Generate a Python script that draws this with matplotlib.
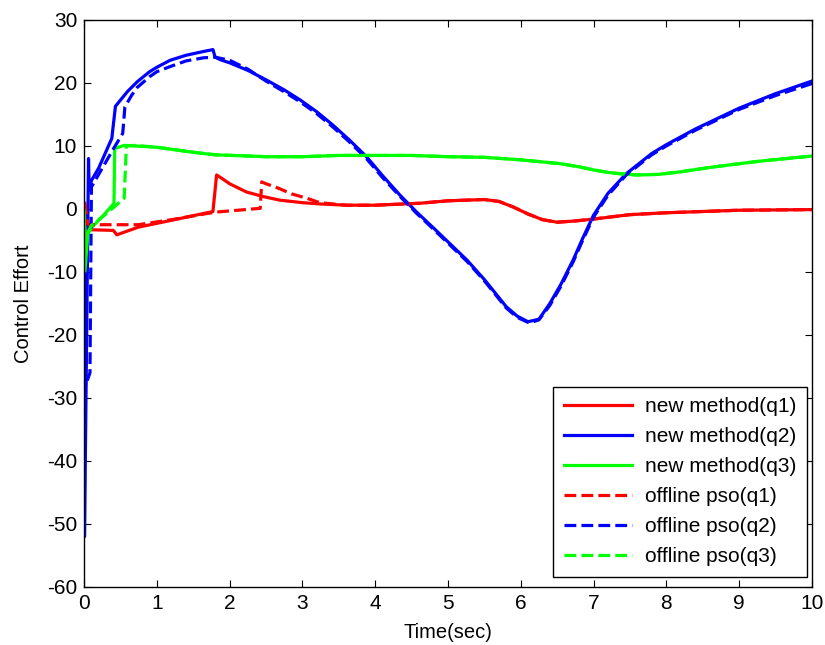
import matplotlib
matplotlib.use('Agg')
import matplotlib.pyplot as plt

plt.rcParams['font.family'] = ['Liberation Sans', 'DejaVu Sans']
plt.rcParams['axes.unicode_minus'] = False

# ---- control effort traces (time in sec, effort) ----
t_q1_new = [0, 0.01, 0.05, 0.1, 0.4, 0.45, 0.74, 1.2, 1.77, 1.82, 1.9, 2.0, 2.23, 2.45,
            2.69, 3.0, 3.24, 3.6, 4.0, 4.6, 5.0, 5.5, 5.7, 5.9, 6.1, 6.3, 6.5, 6.75, 7.0,
            7.5, 8.0, 8.5, 9.0, 10.0]
y_q1_new = [1.0, 0.5, -3.2, -3.3, -3.4, -4.1, -2.9, -1.8, -0.4, 5.4, 4.8, 4.0, 2.7, 2.0,
            1.4, 1.0, 0.8, 0.6, 0.6, 0.9, 1.3, 1.5, 1.2, 0.3, -0.8, -1.7, -2.1, -1.9, -1.6,
            -0.9, -0.6, -0.4, -0.2, -0.1]

t_q2_new = [0, 0.005, 0.06, 0.07, 0.1, 0.2, 0.38, 0.43, 0.5, 0.6, 0.73, 0.9, 1.0, 1.18,
            1.4, 1.64, 1.77, 1.8, 1.87, 2.0, 2.25, 2.5, 2.75, 2.97, 3.2, 3.42, 3.65, 3.88,
            4.1, 4.34, 4.57, 4.8, 5.26, 5.5, 5.8, 5.95, 6.1, 6.25, 6.4, 6.55, 6.72, 6.85,
            7.0, 7.2, 7.45, 7.8, 8.0, 8.4, 9.0, 9.5, 10.0]
y_q2_new = [-10, -52, 8.0, 3.0, 4.5, 6.5, 11.2, 16.3, 17.3, 18.7, 20.2, 21.8, 22.5, 23.6,
            24.4, 25.0, 25.3, 24.1, 23.7, 23.2, 22.0, 20.5, 18.9, 17.3, 15.4, 13.3, 10.9, 8.3,
            5.3, 2.2, -0.5, -3.0, -8.1, -11.2, -15.5, -17.0, -17.9, -17.5, -15.0, -12.0, -8.1,
            -4.7, -1.0, 2.5, 5.6, 8.8, 10.2, 12.7, 16.0, 18.3, 20.3]

t_q3_new = [0, 0.01, 0.05, 0.1, 0.25, 0.41, 0.42, 0.55, 1.0, 1.5, 1.8, 2.5, 3.0, 3.5, 4.5,
            5.0, 5.5, 6.0, 6.54, 6.8, 7.0, 7.2, 7.36, 7.6, 7.9, 8.2, 8.6, 9.29, 10.0]
y_q3_new = [0.0, -10.0, -4.0, -3.0, -1.2, 0.9, 9.6, 10.1, 9.8, 9.0, 8.6, 8.3, 8.3, 8.5, 8.5,
            8.3, 8.2, 7.8, 7.2, 6.7, 6.2, 5.8, 5.6, 5.4, 5.5, 5.9, 6.6, 7.6, 8.4]

t_q1_pso = [0, 0.01, 0.05, 0.1, 0.4, 0.74, 1.2, 1.8, 2.42, 2.44, 2.5, 2.6, 2.69, 2.85,
            3.06, 3.24, 3.6, 4.0, 4.6, 5.0, 5.5, 5.7, 5.9, 6.1, 6.3, 6.5, 6.75, 7.0, 7.5,
            8.0, 8.5, 9.0, 10.0]
y_q1_pso = [1.0, 0.8, -2.4, -2.5, -2.5, -2.5, -1.7, -0.5, 0.1, 4.3, 4.0, 3.6, 3.2, 2.4,
            1.7, 1.0, 0.6, 0.6, 0.9, 1.3, 1.5, 1.2, 0.3, -0.8, -1.7, -2.1, -1.9, -1.6, -0.9,
            -0.6, -0.4, -0.2, -0.1]

t_q2_pso = [0, 0.02, 0.08, 0.1, 0.2, 0.4, 0.53, 0.56, 0.65, 0.73, 0.9, 1.0, 1.18, 1.4,
            1.64, 1.8, 2.0, 2.25, 2.5, 2.75, 2.97, 3.2, 3.42, 3.65, 3.88, 4.1, 4.34, 4.57,
            4.8, 5.26, 5.5, 5.8, 5.95, 6.12, 6.25, 6.4, 6.55, 6.72, 6.85, 7.0, 7.2, 7.45,
            7.8, 8.0, 8.4, 9.0, 9.5, 10.0]
y_q2_pso = [-10, -28, -26, 3.5, 5.5, 9.5, 12.0, 16.2, 18.0, 19.3, 21.0, 21.8, 22.6, 23.5,
            24.0, 24.1, 23.6, 22.2, 20.3, 18.6, 17.0, 15.1, 13.0, 10.6, 8.0, 5.0, 2.0, -0.7,
            -3.2, -8.3, -11.4, -15.7, -17.2, -18.1, -17.6, -15.3, -12.3, -8.4, -5.0, -1.3,
            2.2, 5.4, 8.6, 10.0, 12.5, 15.8, 18.0, 19.9]

t_q3_pso = [0, 0.02, 0.06, 0.1, 0.3, 0.55, 0.58, 0.7, 1.0, 1.5, 1.8, 2.5, 3.0, 3.5, 4.5,
            5.0, 5.5, 6.0, 6.54, 6.8, 7.0, 7.2, 7.36, 7.6, 7.9, 8.2, 8.6, 9.29, 10.0]
y_q3_pso = [0.0, -6.0, -3.5, -2.6, -0.8, 1.7, 10.0, 10.1, 9.8, 9.0, 8.6, 8.3, 8.3, 8.5, 8.5,
            8.3, 8.2, 7.8, 7.2, 6.7, 6.2, 5.8, 5.6, 5.4, 5.5, 5.9, 6.6, 7.6, 8.4]

x_ticks = list(range(0, 11))
y_ticks = list(range(-60, 31, 10))

fig = plt.figure(figsize=(8.25, 6.45), dpi=100)
ax = fig.add_axes([0.102, 0.09, 0.882, 0.879])

lw = 2.3
ax.plot(t_q1_new, y_q1_new, color='#ff0000', lw=lw, label='new method(q1)')
ax.plot(t_q2_new, y_q2_new, color='#0000ff', lw=lw, label='new method(q2)')
ax.plot(t_q3_new, y_q3_new, color='#00ff00', lw=lw, label='new method(q3)')
ax.plot(t_q1_pso, y_q1_pso, color='#ff0000', lw=lw, ls='--', label='offline pso(q1)')
ax.plot(t_q2_pso, y_q2_pso, color='#0000ff', lw=lw, ls='--', label='offline pso(q2)')
ax.plot(t_q3_pso, y_q3_pso, color='#00ff00', lw=lw, ls='--', label='offline pso(q3)')

ax.set_xlim(0, 10)
ax.set_ylim(-60, 30)
ax.set_xticks(x_ticks)
ax.set_yticks(y_ticks)
ax.tick_params(direction='in', top=True, right=True, length=5, labelsize=15, pad=5)
for s in ax.spines.values():
    s.set_linewidth(1.0)

ax.set_xlabel('Time(sec)', fontsize=14.5, labelpad=7)
ax.set_ylabel('Control Effort', fontsize=14.5, labelpad=10)

leg = ax.legend(loc='lower right', bbox_to_anchor=(0.993, 0.018), fontsize=15,
                handlelength=3.3, handletextpad=0.6, labelspacing=0.53,
                borderaxespad=0, fancybox=False, framealpha=1, edgecolor='black',
                borderpad=0.5)
leg.get_frame().set_linewidth(1.0)

fig.savefig('out.png', dpi=100)
